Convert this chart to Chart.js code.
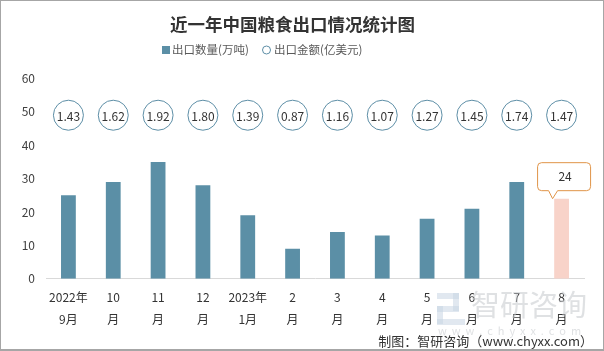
<!DOCTYPE html>
<html>
<head>
<meta charset="utf-8">
<script src="https://cdn.jsdelivr.net/npm/chart.js@4.4.1/dist/chart.umd.min.js"></script>
<style>
    html, body { margin: 0; padding: 0; background: #fff; }
    #wrap { width: 604px; height: 351px; position: relative; box-sizing: border-box; border: 1px solid #a6a6a6; border-bottom-width: 2px; }
    canvas { display: block; }
</style>
</head>
<body>
<div id="wrap"><canvas id="grainChart" width="602" height="348"></canvas></div>
<script>
const months = [
    ['2022年', '9月'], ['10', '月'], ['11', '月'], ['12', '月'], ['2023年', '1月'], ['2', '月'],
    ['3', '月'], ['4', '月'], ['5', '月'], ['6', '月'], ['7', '月'], ['8', '月']
];
const exportVolume = [25, 29, 35, 28, 19, 9, 14, 13, 18, 21, 29, 24];   // 万吨
const exportValue = [1.43, 1.62, 1.92, 1.80, 1.39, 0.87, 1.16, 1.07, 1.27, 1.45, 1.74, 1.47]; // 亿美元
const yTicks = [0, 10, 20, 30, 40, 50, 60];
const valueRowLevel = 49; // circles sit in one row near the top

const FONT = "'Noto Sans CJK SC', 'Noto Sans', sans-serif";
const barColor = '#5b8fa6';
const lastBarColor = '#f8d3c9';
const circleColor = '#5d8ea6';

const barColors = exportVolume.map((v, i) => i === exportVolume.length - 1 ? lastBarColor : barColor);

// legend, labels inside circles, callout over the last bar, watermark + credit
const labelPlugin = {
    id: 'labels',
    afterDatasetsDraw(chart) {
        const ctx = chart.ctx;
        ctx.save();
        ctx.font = '12px ' + FONT;
        ctx.fillStyle = '#333';
        ctx.textAlign = 'center';
        ctx.textBaseline = 'middle';
        chart.getDatasetMeta(1).data.forEach((pt, i) => {
            ctx.fillText(exportValue[i].toFixed(2), pt.x, pt.y + 1);
        });

        // callout for last bar
        const meta = chart.getDatasetMeta(0);
        const last = meta.data[meta.data.length - 1];
        const tipX = last.x - 9, tipY = last.y;
        const bx = last.x - 24, by = tipY - 36, bw = 53, bh = 28, r = 4;
        ctx.beginPath();
        ctx.moveTo(bx + r, by);
        ctx.lineTo(bx + bw - r, by);
        ctx.quadraticCurveTo(bx + bw, by, bx + bw, by + r);
        ctx.lineTo(bx + bw, by + bh - r);
        ctx.quadraticCurveTo(bx + bw, by + bh, bx + bw - r, by + bh);
        ctx.lineTo(tipX + 5, by + bh);
        ctx.lineTo(tipX, tipY);
        ctx.lineTo(tipX - 4, by + bh);
        ctx.lineTo(bx + r, by + bh);
        ctx.quadraticCurveTo(bx, by + bh, bx, by + bh - r);
        ctx.lineTo(bx, by + r);
        ctx.quadraticCurveTo(bx, by, bx + r, by);
        ctx.closePath();
        ctx.fillStyle = '#fff';
        ctx.fill();
        ctx.strokeStyle = '#e09448';
        ctx.lineWidth = 1;
        ctx.stroke();
        ctx.fillStyle = '#333';
        ctx.fillText(String(exportVolume[exportVolume.length - 1]), bx + bw / 2 + 1, by + bh / 2);
        ctx.restore();
    },
    afterDraw(chart) {
        const ctx = chart.ctx;
        ctx.save();
        // legend
        ctx.font = '11.5px ' + FONT;
        ctx.textBaseline = 'middle';
        ctx.textAlign = 'left';
        ctx.fillStyle = barColor;
        ctx.fillRect(161, 45, 8, 8);
        ctx.fillStyle = '#595959';
        ctx.fillText(chart.data.datasets[0].label, 171, 49);
        ctx.beginPath();
        ctx.arc(265.5, 49, 4, 0, Math.PI * 2);
        ctx.strokeStyle = circleColor;
        ctx.lineWidth = 1;
        ctx.stroke();
        ctx.fillText(chart.data.datasets[1].label, 273, 49);

        // watermark
        ctx.globalAlpha = 0.55;
        ctx.fillStyle = '#c9d6e3';
        ctx.fillRect(436, 292, 22, 6);
        ctx.fillRect(452, 292, 6, 18);
        ctx.fillRect(436, 305, 22, 6);
        ctx.fillRect(436, 305, 6, 18);
        ctx.fillRect(436, 318, 28, 6);
        ctx.fillStyle = '#c4c8cc';
        ctx.font = '29px ' + FONT;
        ctx.fillText('智研咨询', 470, 304);
        ctx.font = '11px ' + FONT;
        ctx.fillText('w  w  w  .  c  h  y  x  x  .  c  o  m', 437, 330);
        ctx.globalAlpha = 1;
        // credit
        ctx.fillStyle = '#333';
        ctx.font = '13px ' + FONT;
        ctx.textAlign = 'right';
        ctx.fillText('制图：智研咨询（www.chyxx.com）', 592, 340);
        ctx.restore();
    }
};

new Chart(document.getElementById('grainChart'), {
    data: {
        labels: months,
        datasets: [
            {
                type: 'bar',
                label: '出口数量(万吨)',
                data: exportVolume,
                backgroundColor: barColors,
                barPercentage: 0.33,
                categoryPercentage: 1,
                order: 2
            },
            {
                type: 'line',
                label: '出口金额(亿美元)',
                data: exportValue.map(() => valueRowLevel),
                showLine: false,
                pointStyle: 'circle',
                pointRadius: 15,
                pointHoverRadius: 15,
                pointBorderWidth: 1,
                pointBorderColor: circleColor,
                pointBackgroundColor: '#fff',
                borderColor: circleColor,
                backgroundColor: '#fff',
                order: 1
            }
        ]
    },
    options: {
        responsive: false,
        animation: false,
        layout: { padding: { top: 13, right: 19, bottom: 11, left: 0 } },
        plugins: {
            title: {
                display: true,
                text: '近一年中国粮食出口情况统计图',
                color: '#333',
                font: { family: FONT, size: 17.5, weight: 'bold' },
                padding: { top: 0, bottom: 43.5 }
            },
            legend: { display: false },
            tooltip: { enabled: false }
        },
        scales: {
            x: {
                grid: { display: false, drawTicks: false },
                border: { display: true, color: '#d9d9d9' },
                ticks: {
                    color: '#333',
                    font: { family: FONT, size: 12, lineHeight: 1.8 },
                    maxRotation: 0,
                    autoSkip: false,
                    padding: 8
                }
            },
            y: {
                min: 0,
                max: 60,
                afterBuildTicks(axis) { axis.ticks = yTicks.map(v => ({ value: v })); },
                afterFit(axis) { axis.width = 45; },
                grid: { display: false, drawTicks: false },
                border: { display: false },
                ticks: {
                    color: '#404040',
                    font: { family: FONT, size: 12 },
                    padding: 11
                }
            }
        }
    },
    plugins: [labelPlugin]
});
</script>
</body>
</html>
